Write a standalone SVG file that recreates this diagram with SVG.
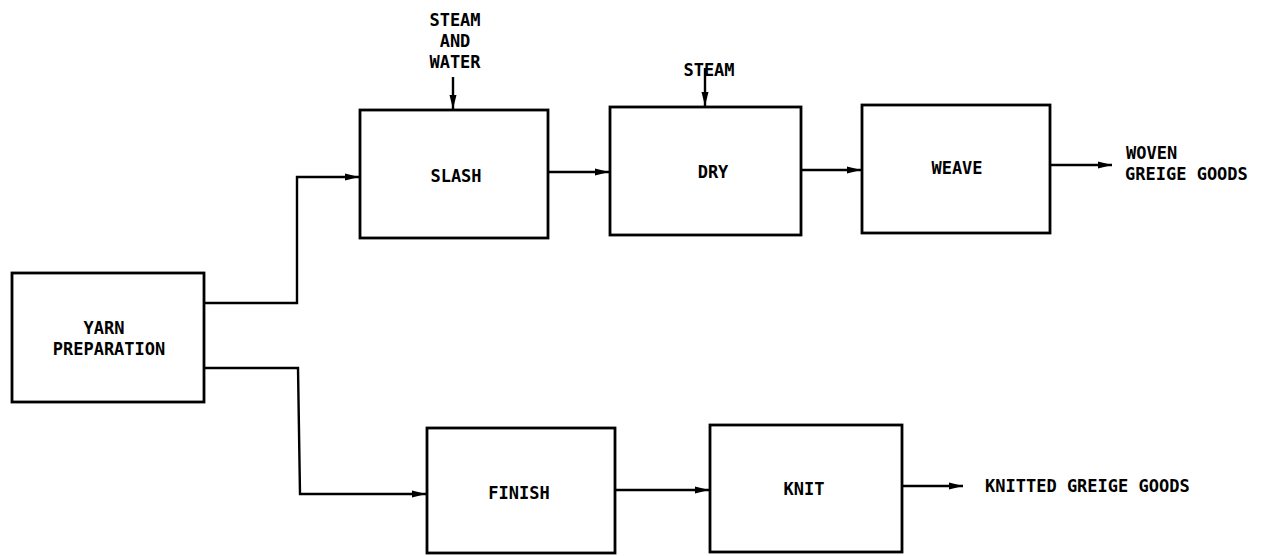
<svg xmlns="http://www.w3.org/2000/svg" width="1270" height="556" viewBox="0 0 1270 556">
<style>
.box{fill:#fff;stroke:#000;stroke-width:2.8}
.ln{fill:none;stroke:#000;stroke-width:2.4;stroke-linejoin:miter}
text{font-family:"DejaVu Sans Mono","Liberation Mono",monospace;font-size:17px;font-weight:bold;fill:#000}
.c{text-anchor:middle}
</style>
<defs>
<marker id="ah" markerUnits="userSpaceOnUse" markerWidth="15" markerHeight="9" refX="14" refY="4.5" orient="auto">
<path d="M0,1 L14,4.5 L0,8 z" fill="#000"/>
</marker>
</defs>
<rect width="1270" height="556" fill="#fff"/>
<g id="connectors">
<path class="ln" d="M204,303 H297 V177 H359" marker-end="url(#ah)"/>
<path class="ln" d="M204,368 H298 L300,494 H426" marker-end="url(#ah)"/>
<path class="ln" d="M548,172 H609" marker-end="url(#ah)"/>
<path class="ln" d="M801,170 H861" marker-end="url(#ah)"/>
<path class="ln" d="M1050,165 H1112" marker-end="url(#ah)"/>
<path class="ln" d="M615,490 H709" marker-end="url(#ah)"/>
<path class="ln" d="M902,486 H963" marker-end="url(#ah)"/>
<path class="ln" d="M453,77 V109" marker-end="url(#ah)"/>
<path class="ln" d="M705,68 V106" marker-end="url(#ah)"/>
</g>
<g id="yarn">
<rect class="box" x="12" y="273" width="192" height="129"/>
<text class="c" x="104" y="334">YARN</text>
<text class="c" x="109" y="355">PREPARATION</text>
</g>
<g id="slash">
<rect class="box" x="360" y="110" width="188" height="128"/>
<text class="c" x="456" y="182">SLASH</text>
</g>
<g id="dry">
<rect class="box" x="610" y="107" width="191" height="128"/>
<text class="c" x="713" y="178">DRY</text>
</g>
<g id="weave">
<rect class="box" x="862" y="105" width="188" height="128"/>
<text class="c" x="957" y="174">WEAVE</text>
</g>
<g id="finish">
<rect class="box" x="427" y="428" width="188" height="125"/>
<text class="c" x="519" y="499">FINISH</text>
</g>
<g id="knit">
<rect class="box" x="710" y="425" width="192" height="127"/>
<text class="c" x="804" y="495">KNIT</text>
</g>
<g id="steam-water-label">
<text class="c" x="455" y="26">STEAM</text>
<text class="c" x="455" y="47">AND</text>
<text class="c" x="455" y="68">WATER</text>
</g>
<g id="steam-label">
<text class="c" x="709" y="76">STEAM</text>
</g>
<g id="woven-label">
<text x="1126" y="159">WOVEN</text>
<text x="1125" y="180">GREIGE GOODS</text>
</g>
<g id="knitted-label">
<text x="985" y="492">KNITTED GREIGE GOODS</text>
</g>
</svg>
